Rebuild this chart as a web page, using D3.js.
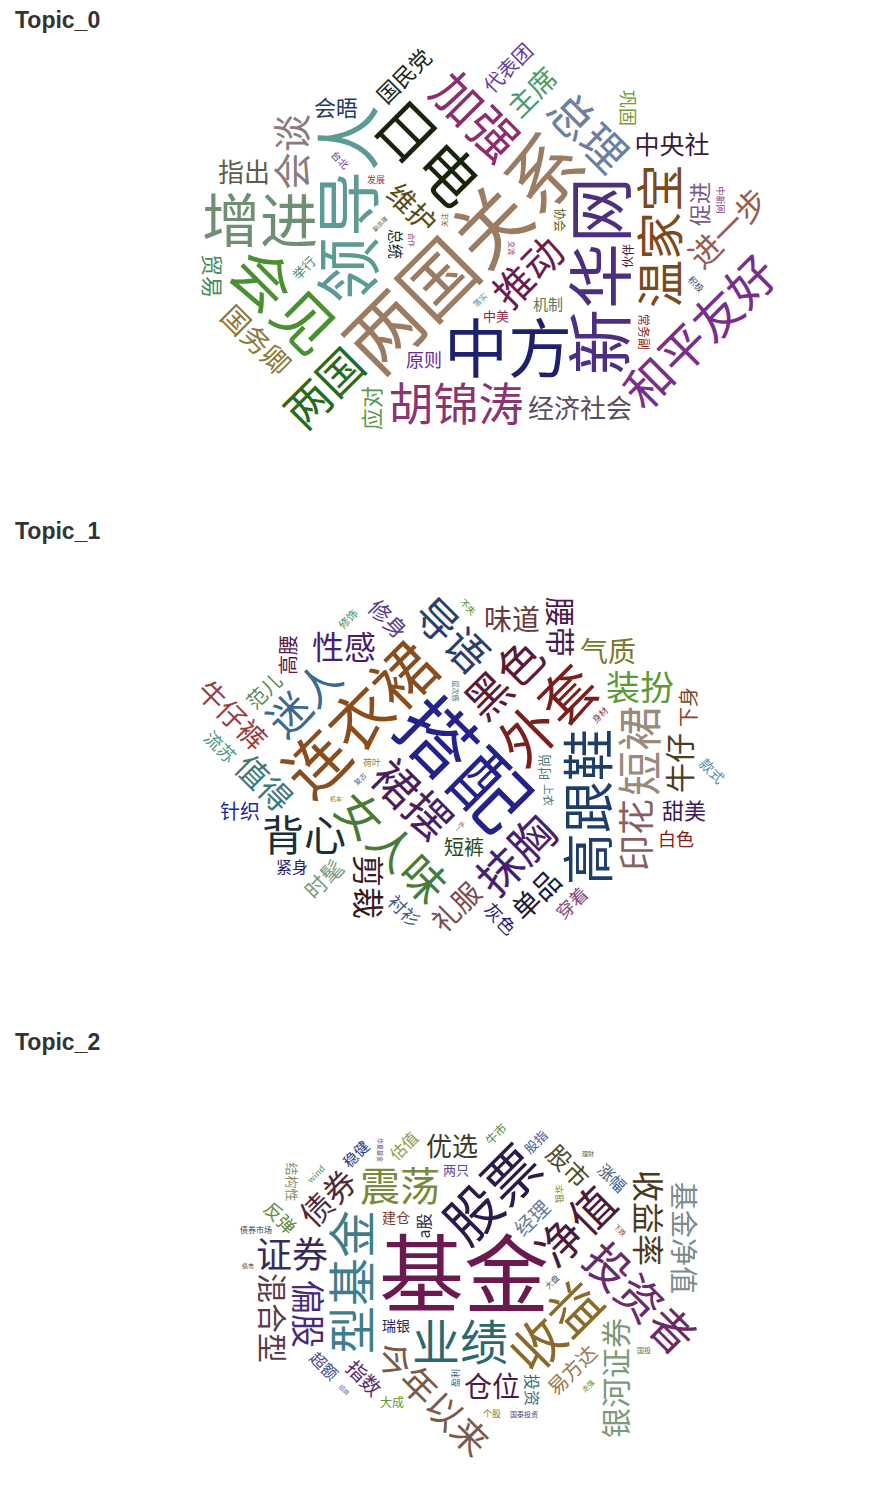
<!DOCTYPE html>
<html><head><meta charset="utf-8">
<script src="https://cdn.jsdelivr.net/npm/d3@7"></script>
<style>body{margin:0;background:#fff}svg{display:block}</style>
</head><body><div id="chart"></div>
<script>
// ---------------- data ----------------
const topicTitles = ["Topic_0", "Topic_1", "Topic_2"];

const words0 = ["两国关系","中方","新华网","领导人","日电","会见","增进","胡锦涛","温家宝","加强","和平友好","总理","两国","推动","会谈","进一步","国务卿","维护","中央社","经济社会","指出","主席","促进","会晤","贸易","国民党","应对","代表团","原则","巩固","总统","机制","举行","中美","常务副","协会","伙伴","台北","发展","积极","中新网","落实","交流","关注","合作","副总理"];
const weights0 = [75,64,66,66,60,60,58,45,48,50,48,45,45,40,38,32,28,28,25,26,26,28,22,22,22,22,22,20,18,18,15,15,13,13,12,12,12,10,9,9,9,8,7,7,7,6];
const rotate0 = [-45,0,-90,-90,45,45,0,0,-90,45,-45,45,-45,-45,-90,-45,45,45,0,0,0,-45,-90,0,90,-45,-90,-45,0,90,90,0,-45,0,90,90,-90,45,0,45,90,-45,90,-90,90,-45];
const colors0 = ["#9b7b62","#1f1f6b","#4c2f80","#5c9a96","#18240a","#4a9030","#6f8f74","#8a3470","#7b4a1c","#8c2d6d","#7a2e8c","#6b7fa0","#2a6a1c","#6b1c4e","#8a7b80","#9a5b52","#8a7a3a","#5a4a1a","#3b1a3a","#5a4c5e","#5c5c4c","#4a9a6a","#7a5a8a","#1e3a6a","#4a8a5a","#1a2a1a","#5a9a4a","#6a3a9a","#6a2a9a","#7a9a3a","#1a2a2a","#5a7a5a","#4a8a7a","#8a2a4a","#8a2a2a","#5a5a1a","#4a1a3a","#5a3a9a","#9a3a3a","#3a4a7a","#8a3a7a","#5a8a8a","#9a3a4a","#4a6a2a","#7a3a5a","#3a6a4a"];

const words1 = ["搭配","连衣裙","外套","高跟鞋","裙摆","女人味","导语","黑色","抹胸","短裙","迷人","背心","印花","值得","装扮","剪裁","牛仔","腰带","性感","单品","礼服","味道","气质","牛仔裤","时髦","修身","甜美","短裤","范儿","针织","衬衫","穿着","高腰","下身","灰色","紧身","白色","流苏","款式","时尚","上衣","修饰","荷叶","身材","不失","层次感","复古","机车","一字"];
const weights1 = [75,62,56,52,45,45,42,45,45,45,42,42,36,32,34,32,30,30,32,28,28,28,28,28,22,22,22,20,20,20,18,18,20,20,18,16,18,18,14,13,11,11,9,9,9,7,7,6,6];
const rotate1 = [45,-45,-45,-90,45,45,45,-45,-45,-90,-45,0,-90,45,0,90,-90,90,0,-45,-45,0,0,45,-45,45,0,0,-45,0,45,-45,-90,-90,45,0,0,45,45,-90,90,-45,0,-45,45,90,-45,0,-45];
const colors1 = ["#22228a","#8a4e1e","#7a1e1e","#1e3e6a","#4a1e5e","#4a7a3a","#2a3e6e","#5a1a36","#4a1e6e","#9a8a7a","#3a6a8e","#1a2e3a","#8a5e5e","#3a7a7a","#5a9a3a","#3a1a1a","#4a3e1e","#4a1a4a","#4a1e6e","#1a1a3a","#7a4a4e","#6a3a3a","#7a7a2a","#9a3e3e","#7a9a7a","#5a3a8a","#3a1a5a","#2a4a1a","#5a8a5a","#1a2a9a","#3a5a8a","#8a4a7a","#5a1a4a","#7a4a2a","#2a1a7a","#2a1a7a","#8a1a1a","#4a9a8a","#5a8aaa","#4a7a7a","#4a7a6a","#4a8a5a","#8a8a4a","#8a3a2a","#4a8a2a","#4a6a5a","#4a5a8a","#8a7a2a","#5a4a4a"];

const words2 = ["基金","股票","收益","型基金","业绩","净值","投资者","震荡","今年以来","证券","偏股","收益率","债券","混合型","银河证券","基金净值","仓位","优选","股市","经理","易方达","指数","反弹","超额","投资","估值","a股","涨幅","稳健","瑞银","建仓","两只","股指","结构性","大成","牛市","wind","银华","盈利","个股","债券市场","大盘","下跌","走强","国投","国泰投资","理财","债市","招商","华夏基金"];
const weights2 = [85,55,52,48,48,45,45,40,36,36,34,32,32,30,30,28,28,26,24,20,20,20,18,16,16,16,16,16,15,14,14,13,13,13,12,12,9,9,9,9,8,8,7,7,7,7,6,6,6,6];
const rotate2 = [0,-45,-45,-90,0,-45,45,0,45,0,90,90,-45,90,-90,90,0,0,45,-45,-45,45,45,45,90,-45,-90,45,-45,0,0,0,-45,90,0,-45,-45,-90,-90,0,0,-45,45,-45,0,0,0,0,45,90];
const colors2 = ["#6a1a4e","#2a1a4a","#8a6a2a","#3e7e8a","#2a6a6a","#4a1a3a","#6a2a6a","#7a8a3a","#7a5a4a","#3a2a5a","#4a2a7a","#4a3a1a","#4a2a3a","#5a3a4a","#7a9a7a","#7a8a8a","#4a1a4a","#3a3a2a","#4a4a2a","#6a7a9a","#9a7a4a","#5a2a6a","#5a8a3a","#4a4a8a","#3a6a7a","#8a9a4a","#2a2a4a","#3a5a8a","#2a3a8a","#2a2a5a","#7a3a2a","#5a4a9a","#3a5a9a","#8a8a6a","#5a9a2a","#4a8a4a","#5a9a5a","#7a8a2a","#3a6a7a","#7a7a2a","#3a3a4a","#4a4a4a","#9a3a2a","#5a8a3a","#6a6a4a","#5a3a7a","#4a6a4a","#2a2a3a","#5a5a9a","#4a4a7a"];

// ---------------- drawing ----------------
const W = 874, H = 1504, CHART_H = 511;
const FONT = '"Noto Sans CJK SC","Noto Sans CJK JP",sans-serif';
const CELL = 4;
const PAD = 1; // cells of dilation around each word (word gap)

const svg = d3.select("#chart").append("svg").attr("width", W).attr("height", H)
  .style("font-family", FONT);

const sizeScale = d3.scaleLinear().domain([0, 100]).range([0, 100]);

const canvas = document.createElement("canvas");
const ctx = canvas.getContext("2d", { willReadFrequently: true });

function makeSprite(text, size, rot) {
  ctx.font = `${size}px ${FONT}`;
  const tw = ctx.measureText(text).width;
  const diag = Math.sqrt(tw * tw + size * size) + 6;
  let n = Math.ceil(diag / CELL) + 2 * PAD + 2;
  if (n % 2) n += 1;
  const dim = n * CELL;
  canvas.width = dim; canvas.height = dim;
  ctx.clearRect(0, 0, dim, dim);
  ctx.font = `${size}px ${FONT}`;
  ctx.fillStyle = "#000";
  ctx.textAlign = "center";
  ctx.textBaseline = "alphabetic";
  ctx.translate(dim / 2, dim / 2);
  ctx.rotate(rot * Math.PI / 180);
  ctx.fillText(text, 0, size * 0.38);
  ctx.setTransform(1, 0, 0, 1, 0, 0);
  const data = ctx.getImageData(0, 0, dim, dim).data;
  const hitGrid = new Uint8Array(n * n);
  for (let cy = 0; cy < n; cy++) {
    for (let cx = 0; cx < n; cx++) {
      let hit = false;
      for (let yy = 0; yy < CELL && !hit; yy++) {
        for (let xx = 0; xx < CELL; xx++) {
          const idx = ((cy * CELL + yy) * dim + (cx * CELL + xx)) * 4 + 3;
          if (data[idx] > 40) { hit = true; break; }
        }
      }
      if (hit) hitGrid[cy * n + cx] = 1;
    }
  }
  // own cells (for marking) and padded cells (for testing)
  const own = [], test = [];
  let minx = 1e9, maxx = -1e9, miny = 1e9, maxy = -1e9;
  for (let cy = 0; cy < n; cy++) {
    for (let cx = 0; cx < n; cx++) {
      const ox = cx - n / 2, oy = cy - n / 2;
      if (hitGrid[cy * n + cx]) {
        own.push([ox, oy]);
        if (ox < minx) minx = ox; if (ox > maxx) maxx = ox;
        if (oy < miny) miny = oy; if (oy > maxy) maxy = oy;
      }
      let near = false;
      for (let dy = -PAD; dy <= PAD && !near; dy++) {
        for (let dx = -PAD; dx <= PAD; dx++) {
          const x2 = cx + dx, y2 = cy + dy;
          if (x2 >= 0 && y2 >= 0 && x2 < n && y2 < n && hitGrid[y2 * n + x2]) { near = true; break; }
        }
      }
      if (near) test.push([ox, oy]);
    }
  }
  return { own, test, minx, maxx, miny, maxy };
}

function layoutTopic(words, weights, rots, cols, top) {
  const GW = Math.ceil(W / CELL), GH = Math.ceil(CHART_H / CELL);
  const grid = new Uint8Array(GW * GH);
  const cx = 465, cy = 250, hw = 318, hh = 208;
  const ell = hh / hw;
  const boxL = Math.floor((cx - hw) / CELL), boxR = Math.ceil((cx + hw) / CELL);
  const boxT = Math.floor((cy - hh) / CELL), boxB = Math.ceil((cy + hh) / CELL);
  const items = words.map((w, i) => ({ text: w, size: sizeScale(weights[i]), rot: rots[i], color: cols[i], i }))
    .sort((a, b) => b.size - a.size);
  const placed = [];
  items.forEach((it, k) => {
    const sp = makeSprite(it.text, it.size, it.rot);
    const theta0 = k * 2.39996;
    let done = false;
    for (let r = 0; r <= hw + 10 && !done; r += 2) {
      const np = Math.max(1, Math.floor(2 * Math.PI * r / 3));
      for (let p = 0; p < np; p++) {
        const th = theta0 + 2 * Math.PI * p / np;
        const gx = Math.round((cx + r * Math.cos(th)) / CELL);
        const gy = Math.round((cy + r * Math.sin(th) * ell) / CELL);
        if (gx + sp.minx < boxL || gx + sp.maxx > boxR || gy + sp.miny < boxT || gy + sp.maxy > boxB) continue;
        let ok = true;
        for (let c = 0; c < sp.test.length; c++) {
          const q = sp.test[c];
          const yy = gy + q[1], xx = gx + q[0];
          if (yy < 0 || xx < 0 || yy >= GH || xx >= GW) continue;
          if (grid[yy * GW + xx]) { ok = false; break; }
        }
        if (!ok) continue;
        for (let c = 0; c < sp.own.length; c++) {
          const q = sp.own[c];
          grid[(gy + q[1]) * GW + gx + q[0]] = 1;
        }
        placed.push({ ...it, x: gx * CELL, y: gy * CELL + top });
        done = true;
        break;
      }
    }
  });
  return placed;
}

const topicData = [
  [words0, weights0, rotate0, colors0],
  [words1, weights1, rotate1, colors1],
  [words2, weights2, rotate2, colors2]
];

topicData.forEach((td, t) => {
  const top = t * CHART_H;
  const g = svg.append("g").attr("class", "topic");
  g.append("text")
    .attr("x", 15).attr("y", top + 28)
    .style("font-family", '"Liberation Sans", Arial, sans-serif')
    .style("font-weight", "bold").style("font-size", "23px")
    .attr("fill", "#333")
    .text(topicTitles[t]);
  const placed = layoutTopic(td[0], td[1], td[2], td[3], top);
  g.selectAll("text.word").data(placed).join("text")
    .attr("class", "word")
    .attr("transform", d => `translate(${d.x},${d.y}) rotate(${d.rot})`)
    .attr("text-anchor", "middle")
    .attr("y", d => d.size * 0.38)
    .style("font-size", d => d.size + "px")
    .attr("fill", d => d.color)
    .text(d => d.text);
});
</script>
</body></html>
